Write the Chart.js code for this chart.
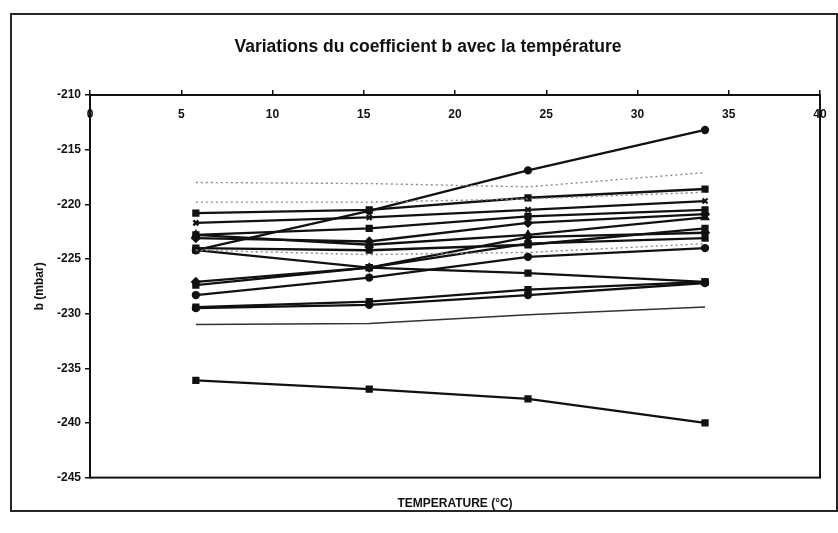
<!DOCTYPE html>
<html>
<head>
<meta charset="utf-8">
<script src="https://cdn.jsdelivr.net/npm/chart.js@4.4.1/dist/chart.umd.min.js"></script>
<style>
    html, body { margin: 0; padding: 0; background: #fff; }
</style>
</head>
<body>
<canvas id="chart" width="838" height="533"></canvas>
<script>
// temperatures of the measurements (°C)
const temps = [5.8, 15.3, 24, 33.7];

// coefficient b (mbar) for each probe, solid lines
const b01 = [-224.2, -220.6, -216.9, -213.2];
const b02 = [-220.8, -220.5, -219.4, -218.6];
const b03 = [-221.7, -221.2, -220.5, -219.7];
const b04 = [-222.8, -222.2, -221.1, -220.5];
const b05 = [-223.1, -223.4, -221.7, -220.9];
const b06 = [-222.8, -223.7, -222.8, -221.2];
const b07 = [-224.0, -224.2, -223.7, -222.2];
const b08 = [-227.1, -225.8, -223.0, -222.6];
const b09 = [-227.4, -225.8, -223.6, -223.1];
const b10 = [-224.2, -225.8, -226.3, -227.1];
const b11 = [-228.3, -226.7, -224.8, -224.0];
const b12 = [-229.4, -228.9, -227.8, -227.1];
const b13 = [-229.5, -229.2, -228.3, -227.2];
const b14 = [-231.0, -230.9, -230.1, -229.4];
const b15 = [-236.1, -236.9, -237.8, -240.0];

// faint dotted series
const d01 = [-218.0, -218.1, -218.4, -217.1];
const d02 = [-219.8, -219.8, -219.5, -218.9];
const d03 = [-224.2, -224.6, -224.4, -223.6];

const xTicks = [0, 5, 10, 15, 20, 25, 30, 35, 40];

const ink = '#111';
const labelFont = { family: '"Liberation Sans", Arial, sans-serif', size: 12, weight: 'bold' };

function pts(vals) {
    return vals.map((v, i) => ({ x: temps[i], y: v }));
}

function solid(vals, style) {
    return {
        data: pts(vals),
        showLine: true,
        borderColor: ink,
        borderWidth: 2.3,
        pointStyle: style,
        pointRadius: style === 'circle' ? 3 : 3.5,
        pointBackgroundColor: ink,
        pointBorderColor: ink
    };
}

function dotted(vals) {
    return {
        data: pts(vals),
        showLine: true,
        borderColor: '#8a8a8a',
        borderWidth: 1.4,
        borderDash: [2, 3],
        pointRadius: 0
    };
}

// frame, plot box, title and x tick labels (they sit inside the plot, under the top axis)
const paperPlugin = {
    id: 'paper',
    beforeDraw(chart) {
        const c = chart.ctx;
        c.save();
        c.fillStyle = '#fff';
        c.fillRect(0, 0, chart.width, chart.height);
        c.strokeStyle = '#262626';
        c.lineWidth = 2;
        c.strokeRect(11, 14, 826, 497);
        c.restore();
    },
    afterDraw(chart) {
        const c = chart.ctx;
        const a = chart.chartArea;
        const x = chart.scales.x;
        c.save();
        c.strokeStyle = ink;
        c.lineWidth = 2;
        c.strokeRect(a.left, a.top, a.right - a.left, a.bottom - a.top);
        c.fillStyle = ink;
        c.textAlign = 'center';
        c.textBaseline = 'middle';
        c.font = 'bold 17.5px "Liberation Sans", Arial, sans-serif';
        c.fillText('Variations du coefficient b avec la température', 428, 47);
        c.font = 'bold 12px "Liberation Sans", Arial, sans-serif';
        xTicks.forEach(v => c.fillText(String(v), x.getPixelForValue(v), a.top + 20));
        c.restore();
    }
};

new Chart(document.getElementById('chart'), {
    type: 'scatter',
    data: {
        datasets: [
            dotted(d01), dotted(d02), dotted(d03),
            solid(b01, 'circle'),
            solid(b02, 'rect'),
            solid(b03, 'crossRot'),
            solid(b04, 'rect'),
            solid(b05, 'rectRot'),
            solid(b06, 'triangle'),
            solid(b07, 'rect'),
            solid(b08, 'rectRot'),
            solid(b09, 'rect'),
            solid(b10, 'rect'),
            solid(b11, 'circle'),
            solid(b12, 'rect'),
            solid(b13, 'circle'),
            { data: pts(b14), showLine: true, borderColor: '#333', borderWidth: 1.5, pointRadius: 0 },
            solid(b15, 'rect')
        ]
    },
    options: {
        responsive: false,
        animation: false,
        layout: { padding: { top: 90, right: 18, left: 0, bottom: 0 } },
        plugins: {
            legend: { display: false },
            tooltip: { enabled: false }
        },
        scales: {
            x: {
                type: 'linear',
                position: 'top',
                min: 0,
                max: 40,
                ticks: { display: false, stepSize: 5 },
                grid: { drawOnChartArea: false, tickLength: 5, color: ink, lineWidth: 1.5 },
                border: { color: ink, width: 2 }
            },
            xb: {
                type: 'linear',
                position: 'bottom',
                min: 0,
                max: 40,
                ticks: { display: false },
                grid: { display: false },
                border: { display: false },
                title: {
                    display: true,
                    text: 'TEMPERATURE (°C)',
                    color: ink,
                    font: labelFont,
                    padding: { top: 11, bottom: 22 }
                }
            },
            y: {
                min: -245,
                max: -210,
                ticks: { stepSize: 5, color: ink, font: labelFont, padding: 4 },
                grid: { drawOnChartArea: false, tickLength: 5, color: ink, lineWidth: 1.5 },
                border: { color: ink, width: 2 },
                title: {
                    display: true,
                    text: 'b (mbar)',
                    color: ink,
                    font: labelFont,
                    padding: { top: 32, bottom: 0 }
                },
                afterFit(scale) { scale.width = 90; }
            }
        }
    },
    plugins: [paperPlugin]
});
</script>
</body>
</html>
